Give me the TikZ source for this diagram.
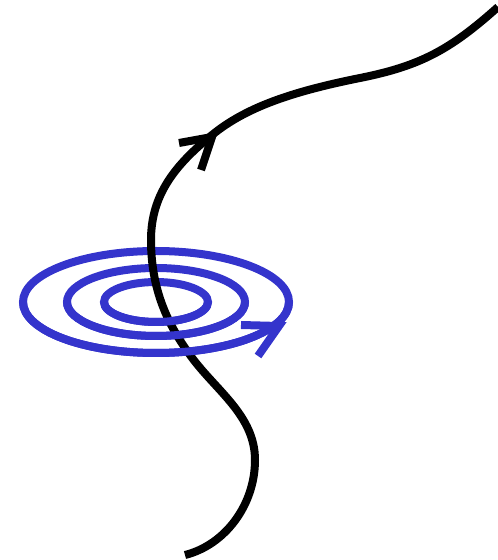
\documentclass[tikz,border=0pt]{standalone}
\usepackage{tikz}
\usetikzlibrary{calc}
\definecolor{ringblue}{RGB}{52,52,204}
\tikzset{
	ringline/.style={line width=8pt, draw=ringblue},
	pathline/.style={line width=8pt, draw=black}
}
\begin{document}
\begin{tikzpicture}[x=1pt,y=1pt]

			\useasboundingbox (0,0) rectangle (498,560);

			\coordinate (ctr) at (156,258);

			% rings, full
			\begin{scope}
				\draw[ringline] (ctr) ellipse [x radius=133, y radius=51];
				\draw[ringline] (ctr) ellipse [x radius=89, y radius=34];
				\draw[ringline] (ctr) ellipse [x radius=52, y radius=20];
			\end{scope}

			% the path through the rings
			\begin{scope}
				\coordinate (p0) at (185,5);
				\coordinate (p1) at (255,100);
				\coordinate (p2) at (190,205);
				\coordinate (p3) at (151,320);
				\coordinate (p4) at (212,425);
				\coordinate (p5) at (360,482);
				\coordinate (p6) at (498,553);
				\draw[pathline] (p0) .. controls (225,15) and (255,55) .. (p1)
					.. controls (255,145) and (215,170) .. (p2)
					.. controls (172,230) and (151,265) .. (p3)
					.. controls (151,365) and (175,395) .. (p4)
					.. controls (245,452) and (290,468) .. (p5)
					.. controls (420,494) and (450,510) .. (p6);
				\coordinate (pA) at (179,417);
				\coordinate (pT) at (212,423);
				\coordinate (pB) at (201,390);
				\draw[pathline] (pA) -- (pT) -- (pB);
			\end{scope}

			% front halves of the rings
			\begin{scope}
				\draw[ringline] ($(ctr)+(-133,0)$) arc [start angle=180, end angle=360, x radius=133, y radius=51];
				\draw[ringline] ($(ctr)+(-89,0)$) arc [start angle=180, end angle=360, x radius=89, y radius=34];
				\draw[ringline] ($(ctr)+(-52,0)$) arc [start angle=180, end angle=360, x radius=52, y radius=20];
				\coordinate (rA) at (241,235);
				\coordinate (rT) at (279,234);
				\coordinate (rB) at (258,204);
				\draw[ringline] (rA) -- (rT) -- (rB);
			\end{scope}

		\end{tikzpicture}
\end{document}
